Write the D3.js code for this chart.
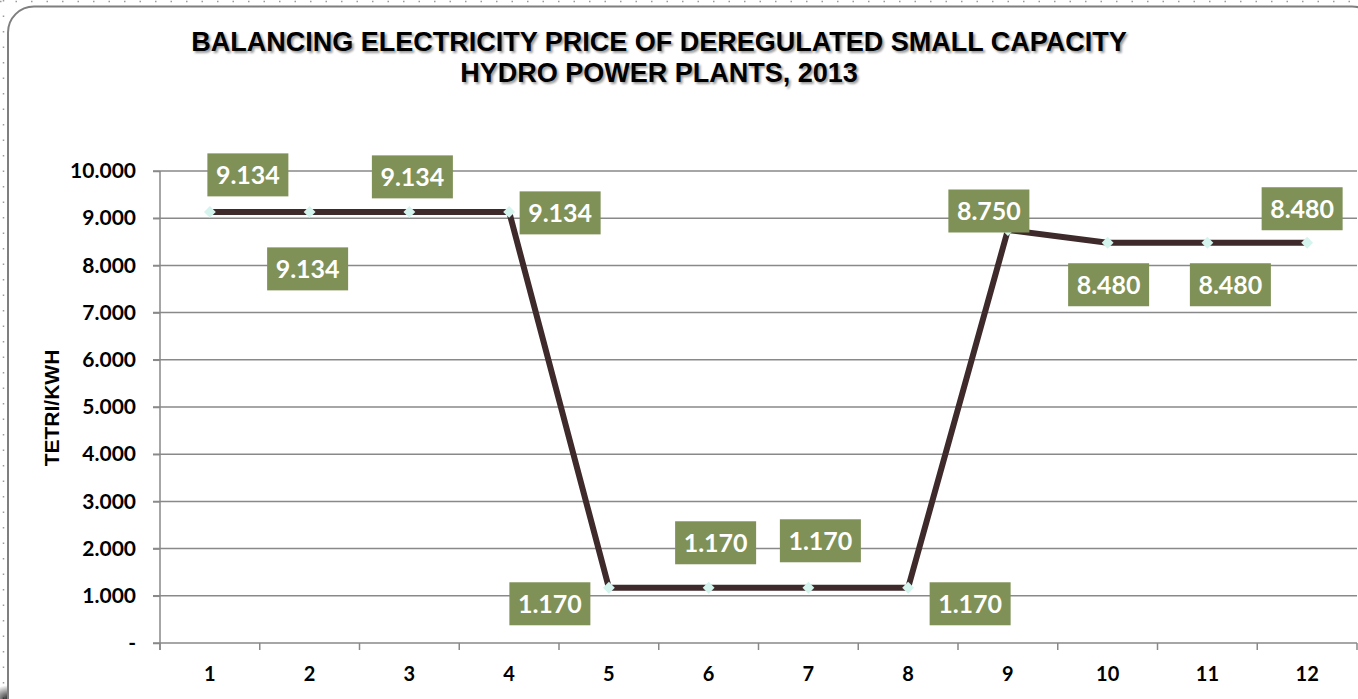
<!DOCTYPE html>
<html>
<head>
<meta charset="utf-8">
<script src="https://cdn.jsdelivr.net/npm/d3@7"></script>
<style>
  body { margin: 0; background: #fff; }
  svg { display: block; }
</style>
</head>
<body>
<script>
// data
var months = ["1", "2", "3", "4", "5", "6", "7", "8", "9", "10", "11", "12"];
var prices = [9.134, 9.134, 9.134, 9.134, 1.170, 1.170, 1.170, 1.170, 8.750, 8.480, 8.480, 8.480];
var yTicks = [0, 1, 2, 3, 4, 5, 6, 7, 8, 9, 10];
var titleLines = ["BALANCING ELECTRICITY PRICE OF DEREGULATED SMALL CAPACITY", "HYDRO POWER PLANTS, 2013"];
var yTitle = "TETRI/KWH";

// label offsets from each point (layout only)
var labelOffsets = [[38, -37], [-2, 57], [3, -35], [51, 1], [-59, 16], [7, -45],
                    [12, -47], [62, 16], [-19, -19], [1, 42], [23, 42], [-5, -34]];

var width = 1358, height = 699;
var plot = {left: 160, right: 1357, top: 171, bottom: 643};

var svg = d3.select("body").append("svg")
    .attr("width", width)
    .attr("height", height);

// dotted outer frame
svg.append("line").attr("x1", 0).attr("x2", width).attr("y1", 1.5).attr("y2", 1.5)
    .attr("stroke", "#9a9a9a").attr("stroke-width", 1.5).attr("stroke-dasharray", "1.5,14");
svg.append("line").attr("x1", 3.5).attr("x2", 3.5).attr("y1", 0).attr("y2", height)
    .attr("stroke", "#9a9a9a").attr("stroke-width", 1.5).attr("stroke-dasharray", "1.5,14");

// bottom-left shadow
var defs = svg.append("defs");
var grad = defs.append("radialGradient").attr("id", "shade").attr("cx", "0.5").attr("cy", "0.5").attr("r", "0.5");
grad.append("stop").attr("offset", "0").attr("stop-color", "#000").attr("stop-opacity", 0.9);
grad.append("stop").attr("offset", "1").attr("stop-color", "#000").attr("stop-opacity", 0);
svg.append("ellipse").attr("cx", 10).attr("cy", 699).attr("rx", 22).attr("ry", 14).attr("fill", "url(#shade)");

// rounded chart frame
svg.append("rect")
    .attr("x", 8).attr("y", 6.5)
    .attr("width", 1370).attr("height", 720)
    .attr("rx", 26).attr("ry", 26)
    .attr("fill", "#fff")
    .attr("stroke", "#7f7f7f")
    .attr("stroke-width", 2);

// title with soft shadow
var title = svg.append("g");
titleLines.forEach(function(t, i){
    title.append("text")
        .attr("x", 661).attr("y", 53 + i * 31)
        .attr("text-anchor", "middle")
        .style("font-family", "'Liberation Sans', Arial, sans-serif")
        .style("font-weight", "bold")
        .style("font-size", "27px")
        .attr("fill", "#9a9a9a")
        .style("filter", "blur(1.3px)")
        .text(t);
    title.append("text")
        .attr("x", 659).attr("y", 51 + i * 31)
        .attr("text-anchor", "middle")
        .style("font-family", "'Liberation Sans', Arial, sans-serif")
        .style("font-weight", "bold")
        .style("font-size", "27px")
        .attr("fill", "#000")
        .text(t);
});

// scales
var x = d3.scaleBand().domain(months).range([plot.left, plot.right]);
var y = d3.scaleLinear().domain([0, 10]).range([plot.bottom, plot.top]);

// gridlines
svg.append("g").selectAll("line")
    .data(yTicks.slice(1))
    .enter().append("line")
    .attr("x1", plot.left - 7).attr("x2", plot.right)
    .attr("y1", function(d){ return y(d); })
    .attr("y2", function(d){ return y(d); })
    .attr("stroke", "#898989").attr("stroke-width", 1.5);

// y axis
var yAxis = svg.append("g")
    .attr("transform", "translate(" + plot.left + ",0)")
    .call(d3.axisLeft(y).tickValues(yTicks).tickSize(7).tickPadding(17)
        .tickFormat(function(d){ return d === 0 ? "-" : d3.format(".3f")(d); }));
yAxis.select(".domain").remove();
yAxis.append("line").attr("x1", 0).attr("x2", 0).attr("y1", plot.top).attr("y2", plot.bottom + 7)
    .attr("stroke", "#898989").attr("stroke-width", 1.5);
yAxis.selectAll(".tick line").attr("stroke", "#898989").attr("stroke-width", 1.5);
yAxis.selectAll("text")
    .style("font-family", "Lato, 'Open Sans', sans-serif")
    .style("font-weight", "bold")
    .style("font-size", "21px")
    .attr("fill", "#000");

// x axis
var xAxis = svg.append("g")
    .attr("transform", "translate(0," + plot.bottom + ")")
    .call(d3.axisBottom(x).tickSize(0).tickPadding(24));
xAxis.select(".domain").attr("stroke", "#898989").attr("stroke-width", 1.5)
    .attr("d", "M" + (plot.left - 7) + ",0H" + plot.right);
xAxis.selectAll("text")
    .style("font-family", "Lato, 'Open Sans', sans-serif")
    .style("font-weight", "bold")
    .style("font-size", "20px")
    .attr("fill", "#000");
xAxis.selectAll(".sep")
    .data(months.concat(["end"]))
    .enter().append("line")
    .attr("x1", function(d, i){ return plot.left + i * x.bandwidth(); })
    .attr("x2", function(d, i){ return plot.left + i * x.bandwidth(); })
    .attr("y1", 0).attr("y2", 7)
    .attr("stroke", "#898989").attr("stroke-width", 1.5);

// y title
svg.append("text")
    .attr("transform", "translate(59,408) rotate(-90)")
    .attr("text-anchor", "middle")
    .style("font-family", "'Liberation Sans', Arial, sans-serif")
    .style("font-weight", "bold")
    .style("font-size", "21px")
    .attr("fill", "#000")
    .text(yTitle);

// line
var line = d3.line()
    .x(function(d, i){ return x(months[i]) + x.bandwidth() / 2; })
    .y(function(d){ return y(d); });

svg.append("path")
    .datum(prices)
    .attr("d", line)
    .attr("fill", "none")
    .attr("stroke", "#3f2a2b")
    .attr("stroke-width", 6)
    .attr("stroke-linejoin", "round");

// markers
svg.append("g").selectAll("path")
    .data(prices)
    .enter().append("path")
    .attr("d", d3.symbol().type(d3.symbolDiamond2).size(90))
    .attr("transform", function(d, i){
        return "translate(" + (x(months[i]) + x.bandwidth() / 2) + "," + y(d) + ")";
    })
    .attr("fill", "#d6f4ee");

// data labels
var labels = svg.append("g").selectAll("g")
    .data(prices)
    .enter().append("g")
    .attr("transform", function(d, i){
        var cx = x(months[i]) + x.bandwidth() / 2 + labelOffsets[i][0];
        var cy = y(d) + labelOffsets[i][1];
        return "translate(" + cx + "," + cy + ")";
    });

labels.append("rect")
    .attr("x", -40.5).attr("y", -21.5)
    .attr("width", 81).attr("height", 43)
    .attr("fill", "#7f9156");

labels.append("text")
    .attr("text-anchor", "middle")
    .attr("dy", "0.36em")
    .style("font-family", "Lato, 'Open Sans', sans-serif")
    .style("font-weight", "bold")
    .style("font-size", "25px")
    .attr("fill", "#fff")
    .text(function(d){ return d3.format(".3f")(d); });
</script>
</body>
</html>
